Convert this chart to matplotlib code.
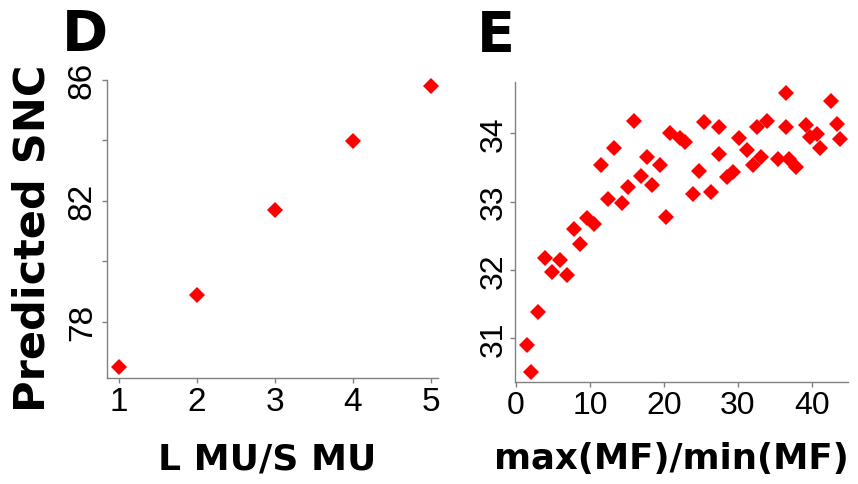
import matplotlib
matplotlib.use("Agg")
import matplotlib.pyplot as plt

# panel D: predicted SNC vs ratio of large/small motor units
ratio_lmu_smu = [1, 2, 3, 4, 5]
snc_d = [76.5, 78.88, 81.68, 83.97, 85.79]

# panel E: predicted SNC vs max(MF)/min(MF)
mf_ratio = [36.5, 42.6, 15.9, 25.4, 27.4, 32.6, 33.9, 36.5, 39.2, 43.4,
            43.8, 39.8, 40.7, 41.1, 20.8, 22.2, 22.9, 30.1, 31.2, 13.3,
            11.5, 17.7, 19.5, 16.9, 15.1, 18.4, 12.4, 14.3, 20.3, 24.7,
            27.4, 23.9, 26.4, 28.5, 29.4, 32.1, 33.2, 35.4, 36.9, 37.8,
            7.8, 9.6, 10.5, 8.7, 1.44, 2.0, 3.0, 3.9, 4.9, 5.9, 6.9]
snc_e = [34.59, 34.47, 34.18, 34.16, 34.10, 34.10, 34.18, 34.09, 34.12, 34.13,
         33.92, 33.94, 33.99, 33.78, 34.00, 33.93, 33.87, 33.93, 33.75, 33.78,
         33.54, 33.66, 33.54, 33.38, 33.22, 33.24, 33.04, 32.98, 32.78, 33.45,
         33.70, 33.11, 33.14, 33.36, 33.43, 33.53, 33.66, 33.62, 33.62, 33.51,
         32.60, 32.76, 32.67, 32.38, 30.90, 30.50, 31.38, 32.18, 31.97, 32.15, 31.92]

d_xticks = [1, 2, 3, 4, 5]
d_yticks = [78, 80, 82, 84, 86]
d_ylabels = ["78", "", "82", "", "86"]
e_xticks = [0, 10, 20, 30, 40]
e_yticks = [31, 32, 33, 34]

plt.rcParams["font.family"] = ["Liberation Sans", "DejaVu Sans"]
W, H = 858, 485
spine_col = "#808080"
red = "#ff0000"
bold = dict(family="DejaVu Sans", fontweight="bold", color="black")

fig = plt.figure(figsize=(W / 100, H / 100), dpi=100)

def style(ax):
    for s in ["top", "right"]:
        ax.spines[s].set_visible(False)
    for s in ["left", "bottom"]:
        ax.spines[s].set_color(spine_col)
        ax.spines[s].set_linewidth(1.0)
    ax.tick_params(length=3.5, width=1.0, color=spine_col, labelsize=24, labelcolor="black")
    ax.tick_params(axis="x", pad=2)
    ax.tick_params(axis="y", pad=3)

# ---- D
axD = fig.add_axes([107 / W, (H - 379) / H, 331 / W, 303 / H])
axD.plot(ratio_lmu_smu, snc_d, "D", color=red, ms=8.5, mew=0)
axD.set_xlim(0.846, 5.09)
axD.set_ylim(76.13, 86.16)
axD.set_xticks(d_xticks)
axD.set_yticks(d_yticks)
axD.set_yticklabels(d_ylabels, rotation=90, va="center")
axD.spines["left"].set_bounds(76.13, 86)
style(axD)

# ---- E
axE = fig.add_axes([515 / W, (H - 383.3) / H, 333 / W, 300 / H])
axE.plot(mf_ratio, snc_e, "D", color=red, ms=8.5, mew=0)
axE.set_xlim(-0.135, 44.9)
axE.set_ylim(30.356, 34.747)
axE.set_xticks(e_xticks)
axE.set_yticks(e_yticks)
axE.set_yticklabels([str(v) for v in e_yticks], rotation=90, va="center")
style(axE)
axE.tick_params(labelsize=23)
axE.tick_params(axis="y", pad=1)

# labels
fig.text(62 / W, 1 - 50 / H, "D", fontsize=40, **bold)
fig.text(477 / W, 1 - 51 / H, "E", fontsize=40, **bold)
fig.text(267.5 / W, 1 - 470 / H, "L MU/S MU", fontsize=26, ha="center", va="baseline", **bold)
fig.text(671.5 / W, 1 - 469 / H, "max(MF)/min(MF)", fontsize=25.6, ha="center", va="baseline", **bold)
fig.text(45 / W, 1 - 238.5 / H, "Predicted SNC", fontsize=31, rotation=90,
         rotation_mode="anchor", ha="center", va="baseline", **bold)

fig.savefig("out.png", dpi=100)
